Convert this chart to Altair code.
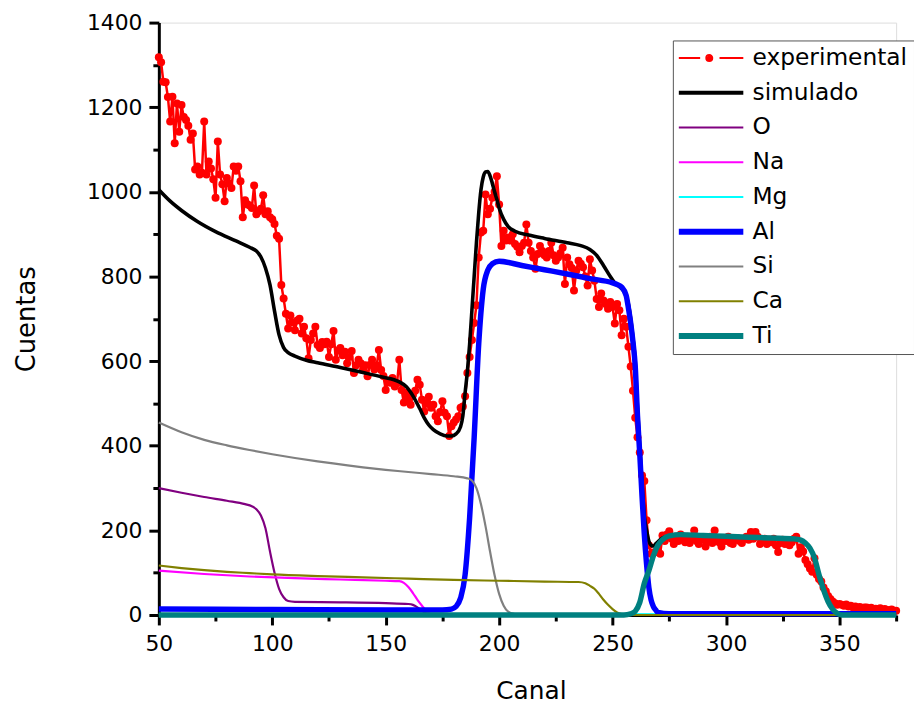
import altair as alt
import pandas as pd

FONT = "DejaVu Sans"

series_names = ["experimental", "simulado", "O", "Na", "Mg", "Al", "Si", "Ca", "Ti"]
series_colors = ["#ff0000", "#000000", "#800080", "#ff00ff", "#00ffff",
                 "#0000ff", "#808080", "#808000", "#008080"]
series_widths = {"simulado": 3.6, "O": 2.2, "Na": 2.2, "Mg": 2.2, "Al": 5.5,
                 "Si": 2.2, "Ca": 2.2, "Ti": 5.5}

# experimental spectrum (one value per channel, 50..375)
canal_exp = list(range(50, 376))
cuentas_exp = [
    1318, 1306, 1260, 1259, 1224, 1166, 1225, 1115, 1209, 1142,
    1205, 1177, 1170, 1156, 1123, 1138, 1053, 1060, 1041, 1045,
    1166, 1041, 1072, 1055, 1030, 986, 1119, 1041, 1018, 978,
    1033, 1020, 1009, 1060, 1050, 1060, 1025, 940, 980, 971,
    968, 962, 1015, 947, 954, 960, 992, 947, 954, 940,
    935, 924, 896, 889, 780, 748, 712, 677, 708, 692,
    673, 696, 700, 665, 681, 654, 607, 650, 665, 681,
    638, 631, 645, 640, 646, 610, 640, 671, 603, 625,
    631, 614, 622, 595, 610, 624, 572, 590, 603, 595,
    579, 590, 564, 591, 603, 580, 590, 626, 579, 565,
    532, 552, 549, 560, 540, 548, 603, 532, 502, 525,
    510, 497, 520, 530, 556, 544, 509, 481, 500, 516,
    490, 497, 470, 458, 480, 505, 478, 470, 423, 446,
    455, 462, 470, 490, 493, 517, 572, 610, 650, 690,
    732, 845, 904, 908, 994, 947, 960, 986, 1000, 1037,
    970, 872, 908, 885, 892, 885, 900, 877, 870, 857,
    872, 880, 923, 880, 860, 845, 818, 853, 872, 860,
    850, 845, 860, 880, 850, 837, 845, 855, 868, 782,
    845, 829, 820, 767, 814, 837, 830, 822, 800, 779,
    841, 814, 790, 747, 728, 760, 743, 735, 724, 740,
    728, 689, 735, 720, 661, 700, 681, 634, 587, 530,
    466, 420, 384, 330, 317, 224, 165, 145, 148, 149,
    160, 145, 188, 175, 190, 198, 180, 168, 185, 175,
    190, 178, 172, 185, 170, 180, 200, 175, 168, 182,
    178, 162, 175, 185, 170, 200, 178, 172, 162, 180,
    175, 185, 170, 168, 178, 182, 175, 170, 180, 185,
    178, 196, 180, 196, 185, 168, 175, 180, 168, 178,
    172, 180, 165, 149, 170, 178, 168, 175, 165, 172,
    180, 185, 145, 160, 150, 130, 120, 110, 102, 134,
    95, 85, 79, 65, 56, 45, 38, 32, 28, 24,
    26, 24, 22, 25, 20, 22, 18, 20, 17, 19,
    16, 18, 18, 15, 17, 14, 15, 13, 16, 12,
    14, 12, 11, 13, 10, 10,
]

sim_x = [50, 55, 60, 67, 75, 84, 90, 93, 95, 97, 99, 101, 103, 105, 107, 110, 115,
         120, 130, 140, 148, 156, 159, 162, 165, 167, 169, 171, 174, 177, 179, 181,
         183, 184, 185, 186, 187, 188, 189, 190, 191, 192, 193, 194, 195, 196, 197,
         198, 199, 200, 202, 204, 207, 213, 220, 230, 236, 240, 243, 246, 249, 251,
         253, 255, 257, 258, 259, 260, 261, 262, 263, 264, 265, 266, 267, 268, 269,
         271, 272, 275, 280, 290, 300, 310, 320, 330, 333, 335, 337, 339, 341, 343,
         345, 347, 349, 351, 375]
sim_y = [1005, 978, 956, 930, 906, 884, 869, 860, 846, 820, 780, 718, 662, 632, 620,
         612, 602, 596, 585, 573, 563, 551, 540, 518, 488, 466, 449, 438, 428, 423,
         423, 428, 445, 470, 525, 575, 640, 720, 800, 880, 950, 1005, 1035, 1047,
         1048, 1038, 1020, 1000, 982, 962, 935, 918, 907, 898, 890, 880, 873, 864,
         850, 826, 800, 785, 776, 765, 735, 700, 655, 600, 490, 400, 310, 235, 200,
         175, 165, 163, 168, 178, 182, 187, 190, 188, 186, 184, 182, 180, 177, 170,
         158, 135, 95, 60, 32, 14, 4, 0, 0]

o_x = [50, 60, 70, 80, 88, 91, 93, 95, 97, 99, 101, 103, 105, 107, 110, 130, 150,
       160, 162, 164, 166, 168, 170, 172, 375]
o_y = [300, 289, 279, 270, 262, 257, 250, 235, 205, 150, 100, 62, 42, 33, 31, 30,
       28, 26, 24, 18, 10, 4, 1, 0, 0]

na_x = [50, 70, 90, 110, 130, 150, 156, 158, 160, 162, 164, 166, 168, 170, 172, 375]
na_y = [105, 97, 91, 87, 84, 81, 80, 76, 66, 52, 36, 22, 9, 2, 0, 0]

mg_x = [50, 200, 375]
mg_y = [2, 2, 1]

al_x = [50, 100, 150, 175, 179, 181, 183, 185, 187, 189, 191, 193, 195, 197, 200,
        210, 220, 230, 240, 250, 252, 254, 256, 257, 258, 259, 260, 261, 262, 263,
        264, 265, 266, 267, 268, 269, 270, 275, 375]
al_y = [14, 13, 12, 12, 14, 20, 40, 95, 230, 420, 640, 770, 815, 830, 836, 826,
        816, 806, 795, 785, 781, 775, 755, 725, 690, 645, 587, 470, 380, 280, 190,
        120, 65, 35, 20, 12, 6, 3, 3]

si_x = [50, 60, 70, 80, 90, 100, 110, 120, 130, 140, 150, 160, 170, 180, 186, 188,
        190, 192, 194, 196, 198, 200, 202, 204, 207, 210, 375]
si_y = [455, 432, 414, 401, 390, 380, 371, 363, 356, 349, 343, 338, 333, 328, 323,
        318, 300, 262, 210, 150, 94, 50, 22, 8, 2, 0, 0]

ca_x = [50, 60, 70, 80, 90, 100, 120, 140, 160, 180, 200, 220, 235, 238, 240, 242,
        244, 246, 248, 250, 252, 254, 256, 375]
ca_y = [117, 111, 106, 102, 99, 96, 92, 89, 86, 83, 81, 79, 78, 75, 69, 62, 50, 36,
        24, 14, 6, 2, 0, 0]

ti_x = [50, 255, 258, 260, 262, 264, 266, 268, 270, 272, 275, 280, 290, 300, 310,
        320, 330, 333, 335, 337, 339, 341, 343, 345, 347, 349, 351, 375]
ti_y = [0, 0, 3, 9, 30, 75, 105, 140, 165, 178, 187, 190, 188, 186, 184, 182, 180,
        177, 170, 158, 135, 95, 60, 32, 14, 4, 0, 0]

model_series = [
    ("simulado", sim_x, sim_y),
    ("O", o_x, o_y),
    ("Na", na_x, na_y),
    ("Mg", mg_x, mg_y),
    ("Al", al_x, al_y),
    ("Si", si_x, si_y),
    ("Ca", ca_x, ca_y),
    ("Ti", ti_x, ti_y),
]


def frame(name, xs, ys):
    return pd.DataFrame({"canal": xs, "cuentas": ys, "serie": name})


x_axis = alt.Axis(
    title="Canal",
    values=list(range(50, 376, 25)),
    format="d",
    labelExpr="datum.value % 50 === 0 ? datum.label : ''",
    tickSize={"condition": {"test": "datum.value % 50 === 0", "value": 10}, "value": 6},
    tickWidth=3, tickColor="black",
    domainWidth=3, domainColor="black",
    labelFont=FONT, labelFontSize=22, labelColor="black", labelPadding=9,
    labelOverlap=False, labelFlush=False,
    grid=False,
    titleFont=FONT, titleFontSize=25, titleFontWeight="normal", titleColor="black",
    titleX=375, titleY=76, titleBaseline="middle", titleAlign="center",
)
y_axis = alt.Axis(
    title="Cuentas",
    values=list(range(0, 1401, 100)),
    format="d",
    labelExpr="datum.value % 200 === 0 ? datum.label : ''",
    tickSize={"condition": {"test": "datum.value % 200 === 0", "value": 10}, "value": 6},
    tickWidth=3, tickColor="black",
    domainWidth=3, domainColor="black",
    labelFont=FONT, labelFontSize=22, labelColor="black", labelPadding=7,
    labelOverlap=False, labelFlush=False,
    grid=False,
    titleFont=FONT, titleFontSize=26, titleFontWeight="normal", titleColor="black",
    titleX=-133, titleY=298.5, titleAngle=270, titleBaseline="middle", titleAlign="center",
)

EXP_PATH = ("M-3.25,0H-1.1M0.85,0H3.25"
            "M0.12,0A0.3,0.3,0,1,1,-0.48,0A0.3,0.3,0,1,1,0.12,0Z"
            "M-0.08,0A0.1,0.1,0,1,1,-0.28,0A0.1,0.1,0,1,1,-0.08,0Z")
THIN_PATH = "M-3.25,0H3.25"
MED_PATH = "M-3.25,-0.1H3.25M-3.25,0.1H3.25"
THICK_PATH = "M-3.25,-0.2H3.25M-3.25,0H3.25M-3.25,0.2H3.25"

shape_expr = (
    f"datum.value === 'experimental' ? '{EXP_PATH}' : "
    f"(datum.value === 'Al' || datum.value === 'Ti') ? '{THICK_PATH}' : "
    f"datum.value === 'simulado' ? '{MED_PATH}' : '{THIN_PATH}'"
)

legend = alt.Legend(
    title=None, orient="none", legendX=518, legendY=18,
    symbolType=alt.ExprRef(expr=shape_expr),
    symbolSize=400, symbolOffset=20.75, labelOffset=30,
    symbolStrokeWidth=2, symbolFillColor="transparent",
    labelFont=FONT, labelFontSize=23.5, labelColor="black", labelLimit=400,
    strokeColor="#555555", fillColor="white", padding=6, rowPadding=10,
)

x_enc = alt.X("canal:Q", scale=alt.Scale(domain=[50, 375], nice=False, zero=False), axis=x_axis)
y_enc = alt.Y("cuentas:Q", scale=alt.Scale(domain=[0, 1400], nice=False), axis=y_axis)
color_enc = alt.Color("serie:N", scale=alt.Scale(domain=series_names, range=series_colors),
                      legend=legend)

exp_df = frame("experimental", canal_exp, cuentas_exp)
layers = [
    alt.Chart(exp_df).mark_line(strokeWidth=2.5, strokeJoin="round").encode(
        x=x_enc, y=y_enc, color=color_enc),
    alt.Chart(exp_df).mark_circle(size=65, color="#ff0000", opacity=1).encode(
        x=x_enc, y=y_enc),
]
for name, xs, ys in model_series:
    layers.append(
        alt.Chart(frame(name, xs, ys)).mark_line(
            strokeWidth=series_widths[name], interpolate="monotone", strokeJoin="round"
        ).encode(x=x_enc, y=y_enc, color=color_enc)
    )

chart = alt.layer(*layers).properties(
    width=743, height=597,
    autosize=alt.AutoSizeParams(type="none"),
    padding={"left": 152, "top": 12, "right": 18, "bottom": 92},
    background="white",
).configure_view(stroke=None).configure(font=FONT)

chart.save("out.html", embed_options={"renderer": "svg", "actions": False})
